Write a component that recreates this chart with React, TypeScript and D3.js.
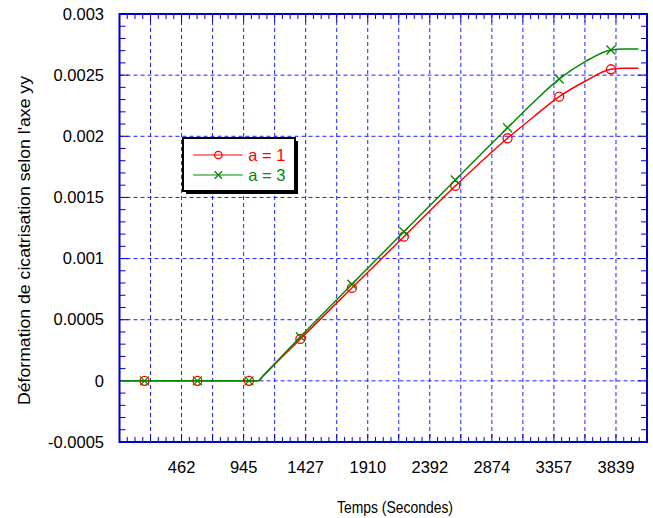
import React from "react";
import * as d3 from "d3";

// ---- data ----
const xTickLabels = [462, 945, 1427, 1910, 2392, 2874, 3357, 3839];
const yTickValues = [-0.0005, 0, 0.0005, 0.001, 0.0015, 0.002, 0.0025, 0.003];
const yTickLabels = ["-0.0005", "0", "0.0005", "0.001", "0.0015", "0.002", "0.0025", "0.003"];

const lineTimes = [0, 174, 585, 986, 1056, 1100, 1200, 1386, 1786, 2190, 2590, 2996, 3200, 3398, 3600, 3800, 3900, 4013];
const lineA1 = [0, 0, 0, 0, 0, 0.000044, 0.00015, 0.000343, 0.00076, 0.001179, 0.001594, 0.001984, 0.00216, 0.002324, 0.00245, 0.002548, 0.002556, 0.002556];
const lineA3 = [0, 0, 0, 0, 0, 0.000047, 0.000157, 0.00036, 0.00079, 0.00122, 0.001643, 0.00207, 0.00228, 0.002469, 0.00261, 0.002705, 0.002714, 0.002714];

const markerTimes = [174, 585, 986, 1386, 1786, 2190, 2590, 2996, 3398, 3800];
const markerA1 = [0, 0, 0, 0.000343, 0.00076, 0.001179, 0.001594, 0.001984, 0.002324, 0.002548];
const markerA3 = [0, 0, 0, 0.00036, 0.00079, 0.00122, 0.001643, 0.00207, 0.002469, 0.002705];

const seriesNames = ["a = 1", "a = 3"];
const seriesColors = ["#ff0000", "#008a00"];

// ---- layout ----
const W = 653, H = 518;
const L = 119.5, R = 647, T = 14, B = 442;
const xStep = (xTickLabels[xTickLabels.length - 1] - xTickLabels[0]) / 14; // grid step
const xMin = xTickLabels[0] - 2 * xStep;
const xMax = xMin + 17 * xStep;

const x = d3.scaleLinear().domain([xMin, xMax]).range([L, R]);
const y = d3.scaleLinear().domain([-0.0005, 0.003]).range([B, T]);

const FONT = "'Liberation Sans', Arial, sans-serif";
const AXIS = "#0000cc";
const GRID = "#1f1fff";

function Circle({ cx, cy, r, color }: any) {
  return <circle cx={cx} cy={cy} r={r} fill="none" stroke={color} strokeWidth={1.3} />;
}
function Cross({ cx, cy, s, color }: any) {
  return (
    <path
      d={`M${cx - s},${cy - s}L${cx + s},${cy + s}M${cx - s},${cy + s}L${cx + s},${cy - s}`}
      stroke={color}
      strokeWidth={1.3}
      fill="none"
    />
  );
}

export default function App() {
  const gridX = d3.range(1, 17).map((k) => xMin + k * xStep);
  const minorX = d3.range(1, 68).map((k) => xMin + (k * xStep) / 4).filter((_, i) => (i + 1) % 4 !== 0);
  const gridY = yTickValues.slice(1, -1);
  const minorY = d3.range(1, 35).map((k) => -0.0005 + k * 0.0001).filter((_, i) => (i + 1) % 5 !== 0);

  const line = d3
    .line<number>()
    .x((_, i) => x(lineTimes[i]))
    .y((d) => y(d))
    .curve(d3.curveMonotoneX);

  const lx0 = 193.3, lx1 = 242.7, lmx = 218.3, ltx = 248.3;
  const rows = [155, 175];

  return (
    <svg width={W} height={H} style={{ position: "absolute", left: 0, top: 0, background: "#fff" }} fontFamily={FONT}>
      <rect x={0} y={0} width={W} height={H} fill="#fff" />
      {/* grid */}
      {gridX.map((g, i) => (
        <line key={"gx" + i} x1={x(g)} x2={x(g)} y1={T} y2={B} stroke={GRID} strokeWidth={1} strokeDasharray="4,3" />
      ))}
      {gridY.map((g, i) => (
        <line key={"gy" + i} x1={L} x2={R} y1={y(g)} y2={y(g)} stroke={GRID} strokeWidth={1} strokeDasharray="4,3" />
      ))}
      {/* minor ticks */}
      {minorX.map((m, i) => (
        <g key={"mx" + i}>
          <line x1={x(m)} x2={x(m)} y1={T} y2={T + 5} stroke={AXIS} strokeWidth={1} />
          <line x1={x(m)} x2={x(m)} y1={B} y2={B - 5} stroke={AXIS} strokeWidth={1} />
        </g>
      ))}
      {gridX.map((g, i) => (
        <g key={"Mx" + i}>
          <line x1={x(g)} x2={x(g)} y1={T} y2={T + 8} stroke={AXIS} strokeWidth={1} />
          <line x1={x(g)} x2={x(g)} y1={B} y2={B - 8} stroke={AXIS} strokeWidth={1} />
        </g>
      ))}
      {minorY.map((m, i) => (
        <g key={"my" + i}>
          <line x1={L} x2={L + 6} y1={y(m)} y2={y(m)} stroke={AXIS} strokeWidth={1} />
          <line x1={R} x2={R - 6} y1={y(m)} y2={y(m)} stroke={AXIS} strokeWidth={1} />
        </g>
      ))}
      {gridY.map((g, i) => (
        <g key={"My" + i}>
          <line x1={L} x2={L + 9} y1={y(g)} y2={y(g)} stroke={AXIS} strokeWidth={1} />
          <line x1={R} x2={R - 9} y1={y(g)} y2={y(g)} stroke={AXIS} strokeWidth={1} />
        </g>
      ))}
      {/* frame */}
      <rect x={L} y={T} width={R - L} height={B - T} fill="none" stroke={AXIS} strokeWidth={2} />

      {/* lines */}
      <path d={line(lineA1) || ""} fill="none" stroke={seriesColors[0]} strokeWidth={1.5} />
      <path d={line(lineA3) || ""} fill="none" stroke={seriesColors[1]} strokeWidth={1.5} />
      {markerTimes.map((t, i) => (
        <Circle key={"c" + i} cx={x(t)} cy={y(markerA1[i])} r={4.5} color={seriesColors[0]} />
      ))}
      {markerTimes.map((t, i) => (
        <Cross key={"x" + i} cx={x(t)} cy={y(markerA3[i])} s={4.5} color={seriesColors[1]} />
      ))}

      {/* tick labels */}
      {yTickValues.map((v, i) => (
        <text key={"yl" + i} x={104} y={y(v)} dy="0.35em" textAnchor="end" fontSize={16.5} fill="#000">
          {yTickLabels[i]}
        </text>
      ))}
      {xTickLabels.map((v, i) => (
        <text key={"xl" + i} x={x(v)} y={473} textAnchor="middle" fontSize={16.5} fill="#000">
          {v}
        </text>
      ))}

      {/* axis titles */}
      <text x={395} y={513} textAnchor="middle" fontSize={16.5} textLength={116} lengthAdjust="spacingAndGlyphs" fill="#000">
        Temps (Secondes)
      </text>
      <text
        transform={`translate(30,${(76 + 405) / 2}) rotate(-90)`}
        textAnchor="middle"
        fontSize={17}
        textLength={329}
        lengthAdjust="spacingAndGlyphs"
        fill="#000"
      >
        Déformation de cicatrisation selon l'axe yy
      </text>

      {/* legend */}
      <rect x={186} y={141} width={112} height={53} fill="#000" />
      <rect x={183} y={138} width={112} height={53} fill="#fff" stroke="#000" strokeWidth={2} />
      {rows.map((ry, i) => (
        <g key={"lg" + i}>
          <line x1={lx0} x2={lx1} y1={ry} y2={ry} stroke={seriesColors[i]} strokeWidth={1.2} />
          {i === 0 ? (
            <Circle cx={lmx} cy={ry} r={3.7} color={seriesColors[0]} />
          ) : (
            <Cross cx={lmx} cy={ry} s={3.7} color={seriesColors[1]} />
          )}
          <text x={ltx} y={ry} dy="0.36em" fontSize={16.5} fill={seriesColors[i]}>
            {seriesNames[i]}
          </text>
        </g>
      ))}
    </svg>
  );
}
